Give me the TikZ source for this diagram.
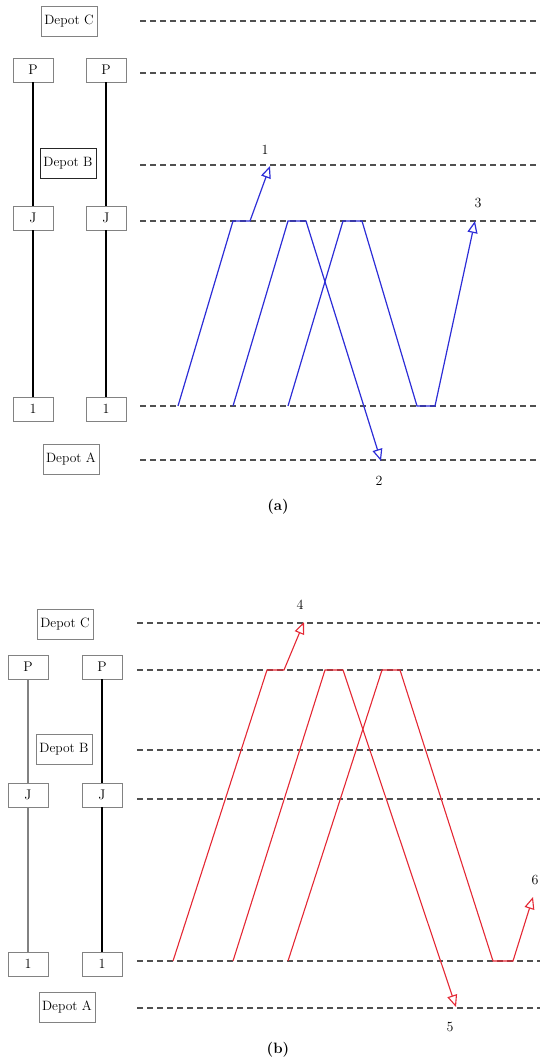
\documentclass[tikz,border=0pt]{standalone}
\usepackage{tikz}
\usetikzlibrary{arrows.meta}
\definecolor{TRblue}{RGB}{45,45,215}
\definecolor{TRred}{RGB}{228,40,52}
\definecolor{TRgray}{RGB}{130,130,130}
\definecolor{TRdash}{RGB}{80,80,80}
\tikzset{
  stn/.style={draw=TRgray,line width=0.8pt,fill=white,font=\fontsize{14}{16}\selectfont,
              minimum width=40pt,minimum height=24pt,inner sep=1pt},
  depot/.style={stn,font=\fontsize{13.5}{16}\selectfont,minimum width=56pt,minimum height=30pt},
  trk/.style={draw=TRdash,line width=1.2pt,dash pattern=on 6pt off 4pt},
  pole/.style={line width=1.1pt},
  bl/.style={draw=TRblue,line width=1.2pt},
  rd/.style={draw=TRred,line width=1.1pt},
  tip/.style={-{Triangle[open,length=12pt,width=10pt]}},
  lbl/.style={font=\fontsize{14}{16}\selectfont},
  panel/.style={font=\fontsize{15}{17}\selectfont\bfseries}
}
\begin{document}
\begin{tikzpicture}[x=1pt,y=-1pt]
  \useasboundingbox (0,0) rectangle (540,1061);
  % (a)
  \foreach \yy in {21,73,165,221,406,460} \draw[trk] (140,\yy) -- (540,\yy);
  \node[depot] (Ca) at (69,21) {Depot C};
  \node[stn] (Pa1) at (33,70) {P};
  \node[stn] (Pa2) at (106,70) {P};
  \node[depot,draw=black!85,line width=1pt] (Ba) at (68,163) {Depot B};
  \node[stn] (Ja1) at (33,218) {J};
  \node[stn] (Ja2) at (106,218) {J};
  \node[stn] (Oa1) at (33,409) {1};
  \node[stn] (Oa2) at (106,409) {1};
  \node[depot] (Aa) at (71,459) {Depot A};
  \draw[pole] (Pa1) -- (Ja1); \draw[pole] (Ja1) -- (Oa1);
  \draw[pole] (Pa2) -- (Ja2); \draw[pole] (Ja2) -- (Oa2);
  \draw[bl,tip] (178,406) -- (233,221) -- (250,221) -- (270,166);
  \draw[bl,tip] (233,406) -- (288,221) -- (306,221) -- (381,461);
  \draw[bl,tip] (288,406) -- (343,221) -- (362,221) -- (417,406) -- (435,406) -- (475,221);
  \node[lbl] (na1) at (265,150) {1};
  \node[lbl] (na2) at (379,481) {2};
  \node[lbl] (na3) at (478,203) {3};
  \node[panel] (capa) at (278,507) {(a)};
  % (b)
  \foreach \yy in {623,670,750,799,961,1008} \draw[trk] (137,\yy) -- (540,\yy);
  \node[depot] (Cb) at (65,624) {Depot C};
  \node[stn] (Pb1) at (28,667) {P};
  \node[stn] (Pb2) at (102,667) {P};
  \node[depot] (Bb) at (64,749) {Depot B};
  \node[stn] (Jb1) at (28,795) {J};
  \node[stn] (Jb2) at (102,795) {J};
  \node[stn] (Ob1) at (28,964) {1};
  \node[stn] (Ob2) at (102,964) {1};
  \node[depot] (Ab) at (67,1007) {Depot A};
  \draw[pole,draw=TRgray] (Pb1) -- (Jb1); \draw[pole,draw=TRgray] (Jb1) -- (Ob1);
  \draw[pole] (Pb2) -- (Jb2); \draw[pole] (Jb2) -- (Ob2);
  \draw[rd,tip] (173,961) -- (267,670) -- (284,670) -- (304,622);
  \draw[rd,tip] (233,961) -- (325,670) -- (343,670) -- (456,1007);
  \draw[rd,tip] (288,961) -- (382,670) -- (400,670) -- (493,961) -- (513,961) -- (533,897);
  \node[lbl] (nb4) at (300,605) {4};
  \node[lbl] (nb5) at (450,1027) {5};
  \node[lbl] (nb6) at (535,880) {6};
  \node[panel] (capb) at (278,1050) {(b)};
\end{tikzpicture}
\end{document}
